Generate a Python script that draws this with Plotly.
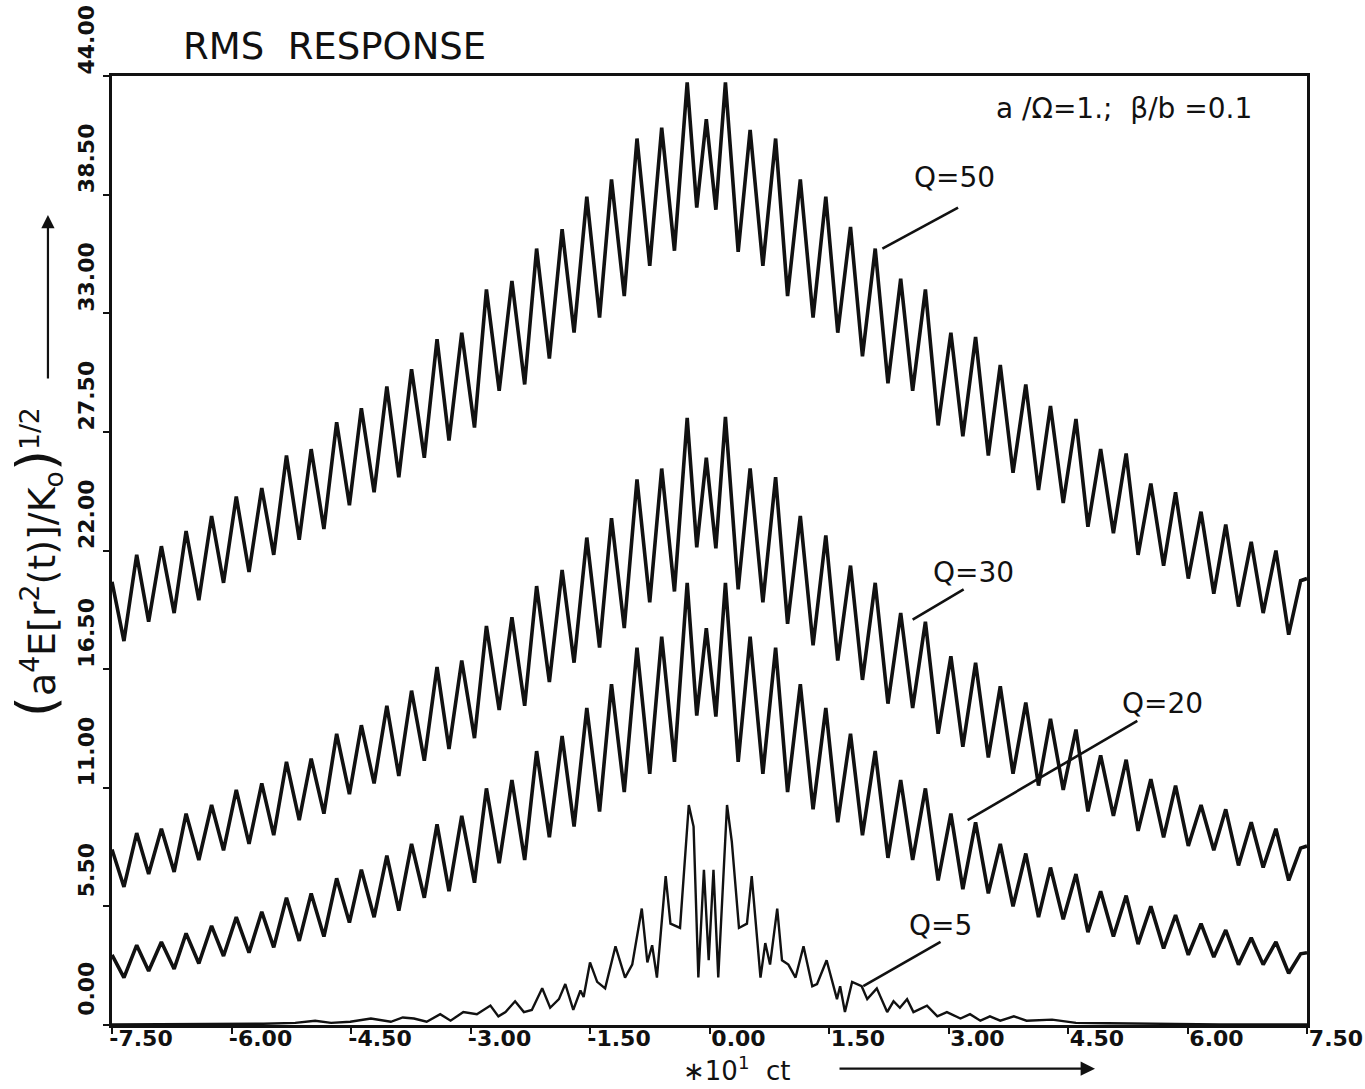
import plotly.graph_objects as go

# ---------------- data ----------------
# shared vertex positions (x in units of 10*ct) for the Q=50, Q=30, Q=20 curves
x_vertices = [
    -7.50, -7.35, -7.19, -7.04, -6.88, -6.72, -6.57, -6.41, -6.25, -6.10,
    -5.94, -5.78, -5.62, -5.47, -5.31, -5.15, -5.00, -4.84, -4.68, -4.52,
    -4.37, -4.21, -4.05, -3.90, -3.74, -3.58, -3.42, -3.27, -3.11, -2.95,
    -2.80, -2.64, -2.48, -2.32, -2.17, -2.01, -1.85, -1.70, -1.54, -1.38,
    -1.23, -1.07, -0.91, -0.75, -0.60, -0.44, -0.28,
    -0.16, -0.04, 0.08,
    0.20, 0.36, 0.51, 0.67, 0.83, 0.98, 1.14, 1.30, 1.46, 1.61,
    1.77, 1.92, 2.08, 2.24, 2.40, 2.55, 2.71, 2.87, 3.03, 3.18,
    3.34, 3.50, 3.65, 3.81, 3.97, 4.13, 4.28, 4.44, 4.60, 4.75,
    4.91, 5.07, 5.23, 5.38, 5.54, 5.70, 5.85, 6.01, 6.17, 6.33,
    6.48, 6.64, 6.80, 6.95, 7.11, 7.27, 7.42, 7.50,
]

q50 = [
    20.55, 17.8, 21.8, 18.7, 22.2, 19.1, 22.9, 19.7, 23.6, 20.5,
    24.5, 21.0, 24.9, 21.8, 26.4, 22.5, 26.7, 23.0, 27.95, 24.1,
    28.6, 24.7, 29.6, 25.4, 30.4, 26.3, 31.8, 27.1, 32.1, 27.7,
    34.1, 29.4, 34.5, 29.7, 36.0, 30.9, 36.9, 32.1, 38.4, 32.8,
    39.2, 33.8, 41.1, 35.2, 41.6, 35.9, 43.7,
    37.9, 42.0, 37.8,
    43.7, 35.85, 41.5, 35.2, 41.1, 33.8, 39.2, 32.8, 38.4, 32.1,
    37.0, 31.0, 36.0, 29.75, 34.6, 29.4, 34.1, 27.8, 32.1, 27.3,
    31.9, 26.4, 30.6, 25.6, 29.7, 24.8, 28.7, 24.2, 28.1, 23.1,
    26.7, 22.8, 26.5, 21.8, 25.1, 21.3, 24.7, 20.7, 23.8, 20.0,
    23.2, 19.4, 22.4, 19.1, 22.0, 18.1, 20.6, 20.7,
]

q30 = [
    8.14, 6.4, 8.9, 7.0, 9.1, 7.1, 9.8, 7.65, 10.2, 8.1,
    10.9, 8.4, 11.2, 8.8, 12.2, 9.5, 12.35, 9.8, 13.5, 10.7,
    13.9, 11.2, 14.8, 11.55, 15.5, 12.25, 16.6, 12.8, 16.9, 13.3,
    18.5, 14.6, 18.9, 14.8, 20.35, 15.9, 21.1, 16.8, 22.6, 17.5,
    23.5, 18.4, 25.3, 19.6, 25.8, 20.1, 28.15,
    22.15, 26.3, 22.1,
    28.2, 20.2, 25.8, 19.6, 25.4, 18.6, 23.6, 17.6, 22.7, 16.9,
    21.3, 16.0, 20.5, 14.9, 19.1, 14.7, 18.7, 13.5, 17.1, 12.9,
    16.8, 12.4, 15.7, 11.65, 14.95, 11.1, 14.2, 10.9, 13.7, 9.9,
    12.5, 9.7, 12.3, 9.0, 11.4, 8.7, 11.1, 8.3, 10.2, 8.1,
    10.0, 7.4, 9.4, 7.3, 9.1, 6.7, 8.2, 8.3,
]

q20 = [
    3.25, 2.2, 3.7, 2.5, 3.85, 2.6, 4.25, 2.85, 4.6, 3.2,
    5.0, 3.35, 5.25, 3.6, 5.9, 3.9, 6.1, 4.1, 6.8, 4.75,
    7.2, 5.0, 7.85, 5.3, 8.4, 5.9, 9.3, 6.2, 9.7, 6.6,
    10.97, 7.5, 11.36, 7.65, 12.7, 8.7, 13.4, 9.2, 14.7, 9.9,
    15.8, 10.8, 17.5, 11.65, 18.0, 12.2, 20.5,
    14.35, 18.4, 14.3,
    20.5, 12.2, 18.0, 11.65, 17.5, 10.8, 15.8, 10.0, 14.7, 9.4,
    13.5, 8.8, 12.7, 7.75, 11.36, 7.65, 10.97, 6.7, 9.8, 6.3,
    9.4, 6.1, 8.4, 5.5, 7.95, 5.0, 7.3, 4.9, 7.0, 4.3,
    6.2, 4.1, 6.0, 3.75, 5.5, 3.55, 5.1, 3.25, 4.7, 3.15,
    4.4, 2.8, 4.05, 2.8, 3.85, 2.4, 3.3, 3.35,
]

q5_x = [
    -7.50, -6.80, -6.20, -5.60, -5.20, -4.95, -4.75, -4.51, -4.25, -4.00,
    -3.85, -3.71, -3.55, -3.38, -3.25, -3.09, -2.92, -2.75, -2.65, -2.56,
    -2.44, -2.33, -2.23, -2.10, -2.00, -1.89, -1.81, -1.71, -1.62, -1.58,
    -1.50, -1.41, -1.31, -1.18, -1.06, -0.97, -0.85, -0.78, -0.72, -0.66,
    -0.55, -0.49, -0.37, -0.26, -0.20, -0.14, -0.07, -0.01, 0.05, 0.11,
    0.22, 0.28, 0.37, 0.47, 0.53, 0.64, 0.70, 0.76, 0.85, 0.91,
    0.99, 1.08, 1.18, 1.29, 1.35, 1.47, 1.60, 1.64, 1.70, 1.79,
    1.91, 1.98, 2.10, 2.23, 2.31, 2.39, 2.48, 2.56, 2.73, 2.86,
    2.98, 3.15, 3.27, 3.40, 3.52, 3.65, 3.82, 3.98, 4.30, 4.60,
    5.00, 5.60, 6.40, 7.50,
]
q5_y = [
    0.02, 0.03, 0.05, 0.06, 0.10, 0.20, 0.10, 0.15, 0.30, 0.15,
    0.35, 0.30, 0.15, 0.50, 0.20, 0.60, 0.50, 0.90, 0.40, 0.60,
    1.10, 0.60, 0.70, 1.70, 0.80, 1.20, 1.90, 0.70, 1.60, 1.30,
    2.90, 2.00, 1.70, 3.65, 2.20, 2.80, 5.40, 2.90, 3.70, 2.20,
    6.90, 4.70, 4.50, 10.20, 9.20, 2.20, 7.20, 3.00, 7.20, 2.20,
    10.20, 8.50, 4.50, 4.70, 6.90, 2.20, 3.80, 2.80, 5.40, 3.00,
    2.80, 2.20, 3.65, 1.80, 1.90, 3.00, 1.20, 1.80, 0.60, 2.00,
    1.80, 1.20, 1.70, 0.60, 1.10, 0.80, 1.20, 0.60, 0.90, 0.40,
    0.60, 0.30, 0.50, 0.20, 0.40, 0.20, 0.40, 0.20, 0.25, 0.10,
    0.08, 0.05, 0.03, 0.02,
]

x_tick_vals = [-7.5, -6.0, -4.5, -3.0, -1.5, 0.0, 1.5, 3.0, 4.5, 6.0, 7.5]
x_tick_text = ["-7.50", "-6.00", "-4.50", "-3.00", "-1.50", "0.00",
               "1.50", "3.00", "4.50", "6.00", "7.50"]
y_tick_vals = [0.0, 5.5, 11.0, 16.5, 22.0, 27.5, 33.0, 38.5, 44.0]
y_tick_text = ["0.00", "5.50", "11.00", "16.50", "22.00", "27.50",
               "33.00", "38.50", "44.00"]

curve_labels = ["Q=50", "Q=30", "Q=20", "Q=5"]

# ---------------- figure ----------------
FONT = "DejaVu Sans, sans-serif"
BLACK = "#111111"

fig = go.Figure()
for ys in (q50, q30, q20):
    fig.add_trace(go.Scatter(x=x_vertices, y=ys, mode="lines",
                             line=dict(color=BLACK, width=3.6),
                             showlegend=False, hoverinfo="skip"))
fig.add_trace(go.Scatter(x=q5_x, y=q5_y, mode="lines",
                         line=dict(color=BLACK, width=2.4),
                         showlegend=False, hoverinfo="skip"))

# curve labels with leader lines (data coordinates)
label_pos = [(3.08, 39.3), (3.32, 21.0), (5.69, 14.9), (2.90, 4.6)]
leaders = [((3.12, 37.9), (2.17, 36.0)),
           ((3.19, 20.2), (2.55, 18.8)),
           ((5.37, 14.1), (3.24, 9.5)),
           ((2.90, 3.85), (1.93, 1.8))]
for txt, (lx, ly), ((x0, y0), (x1, y1)) in zip(curve_labels, label_pos, leaders):
    fig.add_annotation(x=lx, y=ly, xref="x", yref="y", text=txt, showarrow=False,
                       xanchor="center", yanchor="middle",
                       font=dict(family=FONT, size=28, color=BLACK))
    fig.add_shape(type="line", xref="x", yref="y", x0=x0, y0=y0, x1=x1, y1=y1,
                  line=dict(color=BLACK, width=2.6))

# parameter text in upper right
fig.add_annotation(x=6.83, y=42.5, xref="x", yref="y", xanchor="right",
                   yanchor="middle", text="a /Ω=1.;  β/b =0.1", showarrow=False,
                   font=dict(family=FONT, size=28, color=BLACK))

# title
fig.add_annotation(x=0.0577, y=1.031, xref="paper", yref="paper",
                   xanchor="left", yanchor="middle", text="RMS  RESPONSE",
                   showarrow=False, font=dict(family=FONT, size=37, color=BLACK))

# y-axis title (rotated) and its arrow
fig.add_annotation(x=-0.0625, y=0.488, xref="paper", yref="paper",
                   xanchor="center", yanchor="middle",
                   text=("<span style='font-size:54px'>(</span>a<sup>4</sup>E[r<sup>2</sup>(t)]/K<sub>o</sub>"
                         "<span style='font-size:54px'>)</span><sup>1/2</sup>"),
                   textangle=-90, showarrow=False,
                   font=dict(family=FONT, size=38, color=BLACK))
fig.add_annotation(x=-0.0536, y=0.8535, xref="paper", yref="paper",
                   ax=0, ay=165, axref="pixel", ayref="pixel", text="",
                   showarrow=True, arrowhead=2, arrowsize=1.2, arrowwidth=2.2,
                   arrowcolor=BLACK)

# x-axis title and arrow
fig.add_annotation(x=0.523, y=-0.046, xref="paper", yref="paper",
                   xanchor="center", yanchor="middle",
                   text="∗10<sup>1</sup>  ct", showarrow=False,
                   font=dict(family=FONT, size=26, color=BLACK))
fig.add_annotation(x=0.8226, y=-0.046, xref="paper", yref="paper",
                   ax=-257, ay=0, text="", showarrow=True, arrowhead=2,
                   arrowsize=1.2, arrowwidth=2.4, arrowcolor=BLACK)

fig.update_layout(
    width=1365, height=1089,
    margin=dict(l=112, r=58, t=76, b=64, autoexpand=False),
    paper_bgcolor="white", plot_bgcolor="white",
    showlegend=False,
)
fig.update_xaxes(range=[-7.5, 7.5], tickvals=x_tick_vals, ticktext=x_tick_text,
                 showgrid=False, zeroline=False, showline=True, mirror=True,
                 linecolor=BLACK, linewidth=3, ticks="outside", ticklen=6,
                 tickwidth=2, tickcolor=BLACK, ticklabelshift=29,
                 ticklabelstandoff=-14, ticklabeloverflow="allow",
                 automargin=False,
                 tickfont=dict(family=FONT, size=22, color=BLACK, weight="bold"))
fig.update_yaxes(range=[0, 44], tickvals=y_tick_vals, ticktext=y_tick_text,
                 showgrid=False, zeroline=False, showline=True, mirror=True,
                 linecolor=BLACK, linewidth=3, ticks="outside", ticklen=6,
                 tickwidth=2, tickcolor=BLACK, tickangle=-90, ticklabelshift=-33,
                 ticklabeloverflow="allow", automargin=False,
                 tickfont=dict(family=FONT, size=22, color=BLACK, weight="bold"))

fig.write_html("out.html", config={"displayModeBar": False},
               post_script="document.body.style.margin='0px';")
